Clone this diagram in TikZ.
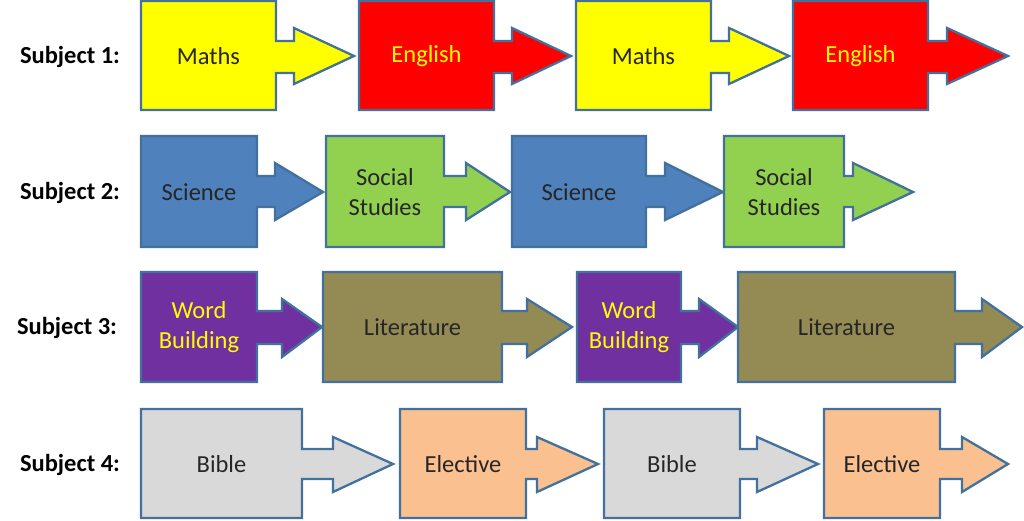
\documentclass[tikz,border=0pt]{standalone}
\usepackage{fontspec}
\setmainfont{Carlito}
\definecolor{cOut}{HTML}{41719C}
\definecolor{cYel}{HTML}{FFFF00}
\definecolor{cRed}{HTML}{FF0000}
\definecolor{cBlue}{HTML}{4F81BD}
\definecolor{cGreen}{HTML}{92D050}
\definecolor{cPurp}{HTML}{7030A0}
\definecolor{cOlive}{HTML}{948A54}
\definecolor{cGray}{HTML}{D9D9D9}
\definecolor{cOrange}{HTML}{FAC090}
\definecolor{cTxt}{HTML}{262626}
\tikzset{
  cbox/.style={draw=cOut, line width=2.3pt, line join=miter},
  lbl/.style={font=\fontsize{24.5}{30}\selectfont, align=center, inner sep=0pt},
  subj/.style={font=\fontsize{24.5}{29}\selectfont\bfseries, text=black, inner sep=0pt}
}
% #1 name, #2 x0, #3 x1 (body right), #4 head base, #5 tip, #6 fill, #7 text colour, #8 text
\newcommand\callbox[8]{%
  \draw[cbox, fill=#6] (#2,\rT) -- (#3,\rT) -- (#3,\sT) -- (#4,\sT) -- (#4,\hT) -- (#5,\cy)
     -- (#4,\hB) -- (#4,\sB) -- (#3,\sB) -- (#3,\rB) -- (#2,\rB) -- cycle;
  \node[lbl, text=#7] (#1) at ({(#2+#3)/2},\cy) {#8};
}
\newcommand\setrow[7]{\def\rT{#1}\def\rB{#2}\def\sT{#3}\def\sB{#4}\def\hT{#5}\def\hB{#6}\def\cy{#7}}
\begin{document}
\begin{tikzpicture}[x=1pt,y=-1pt]
\useasboundingbox (0,0) rectangle (1024,521);
% Row 1
\setrow{1}{110}{41}{73}{28}{84}{56}
\node[subj] (s1) at (70,57) {Subject 1:};
\callbox{m1}{141}{276}{294}{354}{cYel}{cTxt}{Maths}
\callbox{e1}{359}{494}{512}{571}{cRed}{cYel}{English}
\callbox{m2}{576}{711}{729}{789}{cYel}{cTxt}{Maths}
\callbox{e2}{793}{928}{947}{1008}{cRed}{cYel}{English}
% Row 2
\setrow{136}{247}{176}{207}{163}{220}{192}
\node[subj] (s2) at (70,193) {Subject 2:};
\callbox{sc1}{141}{257}{275}{323}{cBlue}{cTxt}{Science}
\callbox{ss1}{326}{444}{466}{510}{cGreen}{cTxt}{Social\\Studies}
\callbox{sc2}{512}{646}{665}{723}{cBlue}{cTxt}{Science}
\callbox{ss2}{724}{844}{853}{913}{cGreen}{cTxt}{Social\\Studies}
% Row 3
\setrow{272}{382}{311}{344}{299}{357}{327}
\node[subj] (s3) at (67,328) {Subject 3:};
\callbox{wb1}{141}{257}{282}{322}{cPurp}{cYel}{Word\\Building}
\callbox{li1}{323}{502}{527}{572}{cOlive}{cTxt}{Literature}
\callbox{wb2}{577}{681}{699}{738}{cPurp}{cYel}{Word\\Building}
\callbox{li2}{738}{955}{982}{1022}{cOlive}{cTxt}{Literature}
% Row 4
\setrow{409}{518}{449}{479}{437}{492}{464}
\node[subj] (s4) at (70,465) {Subject 4:};
\callbox{bi1}{141}{302}{333}{393}{cGray}{cTxt}{Bible}
\callbox{el1}{400}{526}{537}{598}{cOrange}{cTxt}{Elective}
\callbox{bi2}{604}{740}{757}{818}{cGray}{cTxt}{Bible}
\callbox{el2}{824}{940}{962}{1008}{cOrange}{cTxt}{Elective}
\end{tikzpicture}
\end{document}
